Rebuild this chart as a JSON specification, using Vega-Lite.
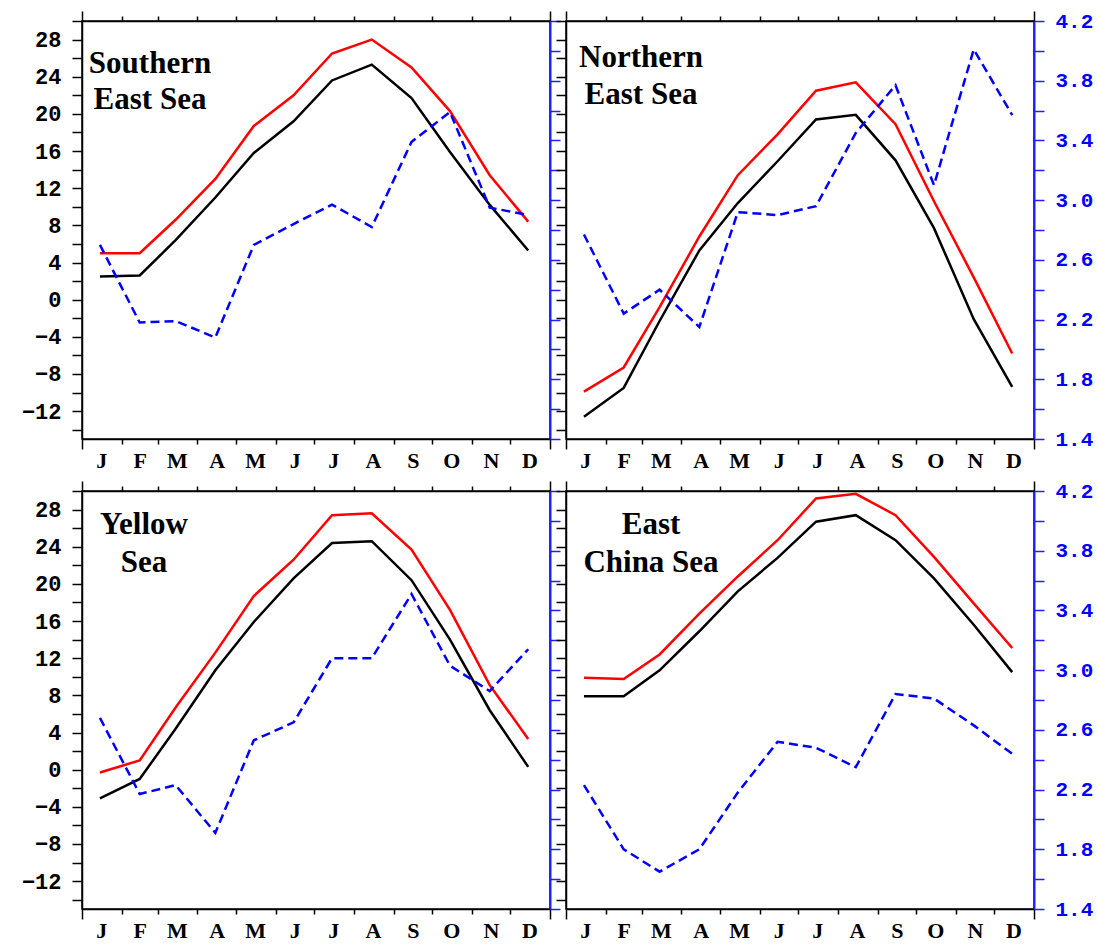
{
  "$schema": "https://vega.github.io/schema/vega-lite/v6.json",
  "background": "white",
  "padding": {"left": 20, "top": 9, "right": 0, "bottom": 0},
  "config": {"view": {"stroke": "black", "strokeWidth": 1.5}},
  "data": {"values": [
    {"region": "SES", "month": "2001-01-15", "upper": 5.0, "lower": 2.5, "right": 2.70},
    {"region": "SES", "month": "2001-02-15", "upper": 5.0, "lower": 2.6, "right": 2.18},
    {"region": "SES", "month": "2001-03-15", "upper": 8.6, "lower": 6.4, "right": 2.19},
    {"region": "SES", "month": "2001-04-15", "upper": 13.0, "lower": 11.0, "right": 2.08},
    {"region": "SES", "month": "2001-05-15", "upper": 18.7, "lower": 15.8, "right": 2.70},
    {"region": "SES", "month": "2001-06-15", "upper": 22.0, "lower": 19.2, "right": 2.84},
    {"region": "SES", "month": "2001-07-15", "upper": 26.5, "lower": 23.6, "right": 2.97},
    {"region": "SES", "month": "2001-08-15", "upper": 28.0, "lower": 25.3, "right": 2.82},
    {"region": "SES", "month": "2001-09-15", "upper": 25.0, "lower": 21.7, "right": 3.39},
    {"region": "SES", "month": "2001-10-15", "upper": 20.3, "lower": 15.9, "right": 3.59},
    {"region": "SES", "month": "2001-11-15", "upper": 13.4, "lower": 10.2, "right": 2.95},
    {"region": "SES", "month": "2001-12-15", "upper": 8.4, "lower": 5.3, "right": 2.90},
    {"region": "NES", "month": "2001-01-15", "upper": -9.9, "lower": -12.6, "right": 2.77},
    {"region": "NES", "month": "2001-02-15", "upper": -7.3, "lower": -9.5, "right": 2.24},
    {"region": "NES", "month": "2001-03-15", "upper": -0.8, "lower": -2.3, "right": 2.40},
    {"region": "NES", "month": "2001-04-15", "upper": 6.8, "lower": 5.3, "right": 2.15},
    {"region": "NES", "month": "2001-05-15", "upper": 13.4, "lower": 10.4, "right": 2.92},
    {"region": "NES", "month": "2001-06-15", "upper": 17.8, "lower": 14.9, "right": 2.90},
    {"region": "NES", "month": "2001-07-15", "upper": 22.5, "lower": 19.4, "right": 2.96},
    {"region": "NES", "month": "2001-08-15", "upper": 23.4, "lower": 19.9, "right": 3.45},
    {"region": "NES", "month": "2001-09-15", "upper": 18.9, "lower": 15.0, "right": 3.77},
    {"region": "NES", "month": "2001-10-15", "upper": 10.6, "lower": 7.7, "right": 3.10},
    {"region": "NES", "month": "2001-11-15", "upper": 2.4, "lower": -2.1, "right": 4.01},
    {"region": "NES", "month": "2001-12-15", "upper": -5.8, "lower": -9.4, "right": 3.57},
    {"region": "YS", "month": "2001-01-15", "upper": -0.3, "lower": -3.1, "right": 2.68},
    {"region": "YS", "month": "2001-02-15", "upper": 1.0, "lower": -1.0, "right": 2.17},
    {"region": "YS", "month": "2001-03-15", "upper": 6.7, "lower": 4.4, "right": 2.23},
    {"region": "YS", "month": "2001-04-15", "upper": 12.6, "lower": 10.7, "right": 1.91},
    {"region": "YS", "month": "2001-05-15", "upper": 18.7, "lower": 15.9, "right": 2.53},
    {"region": "YS", "month": "2001-06-15", "upper": 22.6, "lower": 20.6, "right": 2.65},
    {"region": "YS", "month": "2001-07-15", "upper": 27.4, "lower": 24.4, "right": 3.08},
    {"region": "YS", "month": "2001-08-15", "upper": 27.6, "lower": 24.6, "right": 3.08},
    {"region": "YS", "month": "2001-09-15", "upper": 23.7, "lower": 20.4, "right": 3.51},
    {"region": "YS", "month": "2001-10-15", "upper": 17.2, "lower": 14.0, "right": 3.03},
    {"region": "YS", "month": "2001-11-15", "upper": 9.1, "lower": 6.4, "right": 2.86},
    {"region": "YS", "month": "2001-12-15", "upper": 3.3, "lower": 0.3, "right": 3.14},
    {"region": "ECS", "month": "2001-01-15", "upper": 9.9, "lower": 7.9, "right": 2.23},
    {"region": "ECS", "month": "2001-02-15", "upper": 9.75, "lower": 7.9, "right": 1.80},
    {"region": "ECS", "month": "2001-03-15", "upper": 12.4, "lower": 10.7, "right": 1.65},
    {"region": "ECS", "month": "2001-04-15", "upper": 16.8, "lower": 14.9, "right": 1.80},
    {"region": "ECS", "month": "2001-05-15", "upper": 20.8, "lower": 19.2, "right": 2.18},
    {"region": "ECS", "month": "2001-06-15", "upper": 24.7, "lower": 22.8, "right": 2.52},
    {"region": "ECS", "month": "2001-07-15", "upper": 29.2, "lower": 26.7, "right": 2.48},
    {"region": "ECS", "month": "2001-08-15", "upper": 29.7, "lower": 27.4, "right": 2.35},
    {"region": "ECS", "month": "2001-09-15", "upper": 27.4, "lower": 24.7, "right": 2.84},
    {"region": "ECS", "month": "2001-10-15", "upper": 22.9, "lower": 20.6, "right": 2.81},
    {"region": "ECS", "month": "2001-11-15", "upper": 17.9, "lower": 15.6, "right": 2.63},
    {"region": "ECS", "month": "2001-12-15", "upper": 13.1, "lower": 10.5, "right": 2.44}
  ]},
  "columns": 2,
  "spacing": {"row": 52, "column": 16},
  "bounds": "flush",
  "concat": [
      {
        "width": 468, "height": 418,
        "title": {"text": ["Southern", "East Sea"], "anchor": "start", "align": "center", "dx": 68, "frame": "group", "offset": -130, "font": "Liberation Serif", "fontSize": 31, "fontWeight": "bold", "lineHeight": 36, "color": "black", "baseline": "alphabetic"},
        "transform": [{"filter": "datum.region == 'SES'"}],
        "layer": [
          {"layer": [
            {"mark": {"type": "line", "color": "#FF0000", "strokeWidth": 2.5},
             "encoding": {
               "x": {"field": "month", "type": "temporal", "scale": {"type": "utc", "domain": [{"year": 2001, "month": 1, "date": 1, "utc": true}, {"year": 2002, "month": 1, "date": 1, "utc": true}]},
                 "axis": {"orient": "bottom", "values": [{"year": 2001, "month": 1, "date": 16, "utc": true}, {"year": 2001, "month": 2, "date": 15, "utc": true}, {"year": 2001, "month": 3, "date": 16, "utc": true}, {"year": 2001, "month": 4, "date": 16, "utc": true}, {"year": 2001, "month": 5, "date": 16, "utc": true}, {"year": 2001, "month": 6, "date": 16, "utc": true}, {"year": 2001, "month": 7, "date": 16, "utc": true}, {"year": 2001, "month": 8, "date": 16, "utc": true}, {"year": 2001, "month": 9, "date": 16, "utc": true}, {"year": 2001, "month": 10, "date": 16, "utc": true}, {"year": 2001, "month": 11, "date": 16, "utc": true}, {"year": 2001, "month": 12, "date": 16, "utc": true}], "labelExpr": "slice(utcFormat(datum.value, '%b'), 0, 1)", "ticks": false, "domain": false, "grid": false, "title": null, "labelFont": "Liberation Serif", "labelFontSize": 22, "labelFontWeight": "bold", "labelColor": "black", "labelPadding": 11, "labelFlush": false, "labelOverlap": false, "labelBound": false, "labelAngle": 0}},
               "y": {"field": "upper", "type": "quantitative", "scale": {"domain": [-15, 30], "nice": false, "zero": false},
                 "axis": {"orient": "left", "values": [-14, -12, -10, -8, -6, -4, -2, 0, 2, 4, 6, 8, 10, 12, 14, 16, 18, 20, 22, 24, 26, 28, 30], "labelExpr": "(datum.value % 4 == 0 && datum.value >= -12 && datum.value <= 28) ? format(datum.value, 'd') : ''", "title": null, "grid": false, "tickSize": 10, "tickWidth": 1.5, "tickColor": "black", "domainColor": "black", "domainWidth": 1.5, "labelFont": "Liberation Mono", "labelFontSize": 22, "labelFontWeight": "bold", "labelColor": "black", "labelPadding": 11, "labelFlush": false, "labelOverlap": false, "labelBound": false}}
             }},
            {"mark": {"type": "line", "color": "black", "strokeWidth": 2.5},
             "encoding": {
               "x": {"field": "month", "type": "temporal", "scale": {"type": "utc", "domain": [{"year": 2001, "month": 1, "date": 1, "utc": true}, {"year": 2002, "month": 1, "date": 1, "utc": true}]},
                 "axis": {"orient": "bottom", "values": [{"year": 2001, "month": 1, "date": 1, "utc": true}, {"year": 2001, "month": 2, "date": 1, "utc": true}, {"year": 2001, "month": 3, "date": 1, "utc": true}, {"year": 2001, "month": 4, "date": 1, "utc": true}, {"year": 2001, "month": 5, "date": 1, "utc": true}, {"year": 2001, "month": 6, "date": 1, "utc": true}, {"year": 2001, "month": 7, "date": 1, "utc": true}, {"year": 2001, "month": 8, "date": 1, "utc": true}, {"year": 2001, "month": 9, "date": 1, "utc": true}, {"year": 2001, "month": 10, "date": 1, "utc": true}, {"year": 2001, "month": 11, "date": 1, "utc": true}, {"year": 2001, "month": 12, "date": 1, "utc": true}, {"year": 2002, "month": 1, "date": 1, "utc": true}], "labels": false, "grid": false, "title": null, "domain": true, "domainColor": "black", "domainWidth": 1.5, "tickColor": "black", "tickWidth": 1.5, "tickSize": {"condition": {"test": "utcmonth(datum.value) == 0", "value": 10}, "value": 5}}},
               "y": {"field": "lower", "type": "quantitative", "scale": {"domain": [-15, 30], "nice": false, "zero": false},
                 "axis": {"orient": "left", "values": [-14, -12, -10, -8, -6, -4, -2, 0, 2, 4, 6, 8, 10, 12, 14, 16, 18, 20, 22, 24, 26, 28, 30], "labelExpr": "(datum.value % 4 == 0 && datum.value >= -12 && datum.value <= 28) ? format(datum.value, 'd') : ''", "title": null, "grid": false, "tickSize": 10, "tickWidth": 1.5, "tickColor": "black", "domainColor": "black", "domainWidth": 1.5, "labelFont": "Liberation Mono", "labelFontSize": 22, "labelFontWeight": "bold", "labelColor": "black", "labelPadding": 11, "labelFlush": false, "labelOverlap": false, "labelBound": false}}
             }}
          ], "resolve": {"axis": {"x": "independent"}}},
          {"mark": {"type": "line", "color": "#0000FF", "strokeWidth": 2.5, "strokeDash": [9, 5]},
           "encoding": {
             "x": {"field": "month", "type": "temporal", "scale": {"type": "utc", "domain": [{"year": 2001, "month": 1, "date": 1, "utc": true}, {"year": 2002, "month": 1, "date": 1, "utc": true}]},
               "axis": {"orient": "top", "values": [{"year": 2001, "month": 1, "date": 1, "utc": true}, {"year": 2001, "month": 2, "date": 1, "utc": true}, {"year": 2001, "month": 3, "date": 1, "utc": true}, {"year": 2001, "month": 4, "date": 1, "utc": true}, {"year": 2001, "month": 5, "date": 1, "utc": true}, {"year": 2001, "month": 6, "date": 1, "utc": true}, {"year": 2001, "month": 7, "date": 1, "utc": true}, {"year": 2001, "month": 8, "date": 1, "utc": true}, {"year": 2001, "month": 9, "date": 1, "utc": true}, {"year": 2001, "month": 10, "date": 1, "utc": true}, {"year": 2001, "month": 11, "date": 1, "utc": true}, {"year": 2001, "month": 12, "date": 1, "utc": true}, {"year": 2002, "month": 1, "date": 1, "utc": true}], "labels": false, "grid": false, "title": null, "domain": true, "domainColor": "black", "domainWidth": 1.5, "tickColor": "black", "tickWidth": 1.5, "tickSize": {"condition": {"test": "utcmonth(datum.value) == 0", "value": 10}, "value": 5}}},
             "y": {"field": "right", "type": "quantitative", "scale": {"domain": [1.4, 4.2], "nice": false, "zero": false},
               "axis": {"orient": "right", "values": [1.4, 1.6, 1.8, 2.0, 2.2, 2.4, 2.6, 2.8, 3.0, 3.2, 3.4, 3.6, 3.8, 4.0, 4.2], "labels": false, "title": null, "grid": false, "tickSize": 10, "tickWidth": 1.5, "tickColor": "#2020FF", "domainColor": "#2020FF", "domainWidth": 2}}
           }}
        ],
        "resolve": {"scale": {"y": "independent"}, "axis": {"x": "independent", "y": "independent"}}
      },
      {
        "width": 468, "height": 418,
        "title": {"text": ["Northern", "East Sea"], "anchor": "start", "align": "center", "dx": 75, "frame": "group", "offset": -125, "font": "Liberation Serif", "fontSize": 31, "fontWeight": "bold", "lineHeight": 37, "color": "black", "baseline": "alphabetic"},
        "transform": [{"filter": "datum.region == 'NES'"}],
        "layer": [
          {"layer": [
            {"mark": {"type": "line", "color": "#FF0000", "strokeWidth": 2.5},
             "encoding": {
               "x": {"field": "month", "type": "temporal", "scale": {"type": "utc", "domain": [{"year": 2001, "month": 1, "date": 1, "utc": true}, {"year": 2002, "month": 1, "date": 1, "utc": true}]},
                 "axis": {"orient": "bottom", "values": [{"year": 2001, "month": 1, "date": 16, "utc": true}, {"year": 2001, "month": 2, "date": 15, "utc": true}, {"year": 2001, "month": 3, "date": 16, "utc": true}, {"year": 2001, "month": 4, "date": 16, "utc": true}, {"year": 2001, "month": 5, "date": 16, "utc": true}, {"year": 2001, "month": 6, "date": 16, "utc": true}, {"year": 2001, "month": 7, "date": 16, "utc": true}, {"year": 2001, "month": 8, "date": 16, "utc": true}, {"year": 2001, "month": 9, "date": 16, "utc": true}, {"year": 2001, "month": 10, "date": 16, "utc": true}, {"year": 2001, "month": 11, "date": 16, "utc": true}, {"year": 2001, "month": 12, "date": 16, "utc": true}], "labelExpr": "slice(utcFormat(datum.value, '%b'), 0, 1)", "ticks": false, "domain": false, "grid": false, "title": null, "labelFont": "Liberation Serif", "labelFontSize": 22, "labelFontWeight": "bold", "labelColor": "black", "labelPadding": 11, "labelFlush": false, "labelOverlap": false, "labelBound": false, "labelAngle": 0}},
               "y": {"field": "upper", "type": "quantitative", "scale": {"domain": [-15, 30], "nice": false, "zero": false},
                 "axis": {"orient": "left", "values": [-14, -12, -10, -8, -6, -4, -2, 0, 2, 4, 6, 8, 10, 12, 14, 16, 18, 20, 22, 24, 26, 28, 30], "labels": false, "title": null, "grid": false, "tickSize": 10, "tickWidth": 1.5, "tickColor": "black", "domainColor": "black", "domainWidth": 1.5}}
             }},
            {"mark": {"type": "line", "color": "black", "strokeWidth": 2.5},
             "encoding": {
               "x": {"field": "month", "type": "temporal", "scale": {"type": "utc", "domain": [{"year": 2001, "month": 1, "date": 1, "utc": true}, {"year": 2002, "month": 1, "date": 1, "utc": true}]},
                 "axis": {"orient": "bottom", "values": [{"year": 2001, "month": 1, "date": 1, "utc": true}, {"year": 2001, "month": 2, "date": 1, "utc": true}, {"year": 2001, "month": 3, "date": 1, "utc": true}, {"year": 2001, "month": 4, "date": 1, "utc": true}, {"year": 2001, "month": 5, "date": 1, "utc": true}, {"year": 2001, "month": 6, "date": 1, "utc": true}, {"year": 2001, "month": 7, "date": 1, "utc": true}, {"year": 2001, "month": 8, "date": 1, "utc": true}, {"year": 2001, "month": 9, "date": 1, "utc": true}, {"year": 2001, "month": 10, "date": 1, "utc": true}, {"year": 2001, "month": 11, "date": 1, "utc": true}, {"year": 2001, "month": 12, "date": 1, "utc": true}, {"year": 2002, "month": 1, "date": 1, "utc": true}], "labels": false, "grid": false, "title": null, "domain": true, "domainColor": "black", "domainWidth": 1.5, "tickColor": "black", "tickWidth": 1.5, "tickSize": {"condition": {"test": "utcmonth(datum.value) == 0", "value": 10}, "value": 5}}},
               "y": {"field": "lower", "type": "quantitative", "scale": {"domain": [-15, 30], "nice": false, "zero": false},
                 "axis": {"orient": "left", "values": [-14, -12, -10, -8, -6, -4, -2, 0, 2, 4, 6, 8, 10, 12, 14, 16, 18, 20, 22, 24, 26, 28, 30], "labels": false, "title": null, "grid": false, "tickSize": 10, "tickWidth": 1.5, "tickColor": "black", "domainColor": "black", "domainWidth": 1.5}}
             }}
          ], "resolve": {"axis": {"x": "independent"}}},
          {"mark": {"type": "line", "color": "#0000FF", "strokeWidth": 2.5, "strokeDash": [9, 5]},
           "encoding": {
             "x": {"field": "month", "type": "temporal", "scale": {"type": "utc", "domain": [{"year": 2001, "month": 1, "date": 1, "utc": true}, {"year": 2002, "month": 1, "date": 1, "utc": true}]},
               "axis": {"orient": "top", "values": [{"year": 2001, "month": 1, "date": 1, "utc": true}, {"year": 2001, "month": 2, "date": 1, "utc": true}, {"year": 2001, "month": 3, "date": 1, "utc": true}, {"year": 2001, "month": 4, "date": 1, "utc": true}, {"year": 2001, "month": 5, "date": 1, "utc": true}, {"year": 2001, "month": 6, "date": 1, "utc": true}, {"year": 2001, "month": 7, "date": 1, "utc": true}, {"year": 2001, "month": 8, "date": 1, "utc": true}, {"year": 2001, "month": 9, "date": 1, "utc": true}, {"year": 2001, "month": 10, "date": 1, "utc": true}, {"year": 2001, "month": 11, "date": 1, "utc": true}, {"year": 2001, "month": 12, "date": 1, "utc": true}, {"year": 2002, "month": 1, "date": 1, "utc": true}], "labels": false, "grid": false, "title": null, "domain": true, "domainColor": "black", "domainWidth": 1.5, "tickColor": "black", "tickWidth": 1.5, "tickSize": {"condition": {"test": "utcmonth(datum.value) == 0", "value": 10}, "value": 5}}},
             "y": {"field": "right", "type": "quantitative", "scale": {"domain": [1.4, 4.2], "nice": false, "zero": false},
               "axis": {"orient": "right", "values": [1.4, 1.6, 1.8, 2.0, 2.2, 2.4, 2.6, 2.8, 3.0, 3.2, 3.4, 3.6, 3.8, 4.0, 4.2], "labelExpr": "indexof(['1.4','1.8','2.2','2.6','3.0','3.4','3.8','4.2'], format(datum.value, '.1f')) >= 0 ? format(datum.value, '.1f') : ''", "title": null, "grid": false, "tickSize": 10, "tickWidth": 1.5, "tickColor": "#2020FF", "domainColor": "#2020FF", "domainWidth": 2, "labelFont": "Liberation Mono", "labelFontSize": 21, "labelFontWeight": "bold", "labelColor": "#0000FF", "labelPadding": 11, "labelFlush": false, "labelOverlap": false, "labelBound": false}}
           }}
        ],
        "resolve": {"scale": {"y": "independent"}, "axis": {"x": "independent", "y": "independent"}}
      },
      {
        "width": 468, "height": 418,
        "title": {"text": ["Yellow", "Sea"], "anchor": "start", "align": "center", "dx": 62, "frame": "group", "offset": -123, "font": "Liberation Serif", "fontSize": 31, "fontWeight": "bold", "lineHeight": 38, "color": "black", "baseline": "alphabetic"},
        "transform": [{"filter": "datum.region == 'YS'"}],
        "layer": [
          {"layer": [
            {"mark": {"type": "line", "color": "#FF0000", "strokeWidth": 2.5},
             "encoding": {
               "x": {"field": "month", "type": "temporal", "scale": {"type": "utc", "domain": [{"year": 2001, "month": 1, "date": 1, "utc": true}, {"year": 2002, "month": 1, "date": 1, "utc": true}]},
                 "axis": {"orient": "bottom", "values": [{"year": 2001, "month": 1, "date": 16, "utc": true}, {"year": 2001, "month": 2, "date": 15, "utc": true}, {"year": 2001, "month": 3, "date": 16, "utc": true}, {"year": 2001, "month": 4, "date": 16, "utc": true}, {"year": 2001, "month": 5, "date": 16, "utc": true}, {"year": 2001, "month": 6, "date": 16, "utc": true}, {"year": 2001, "month": 7, "date": 16, "utc": true}, {"year": 2001, "month": 8, "date": 16, "utc": true}, {"year": 2001, "month": 9, "date": 16, "utc": true}, {"year": 2001, "month": 10, "date": 16, "utc": true}, {"year": 2001, "month": 11, "date": 16, "utc": true}, {"year": 2001, "month": 12, "date": 16, "utc": true}], "labelExpr": "slice(utcFormat(datum.value, '%b'), 0, 1)", "ticks": false, "domain": false, "grid": false, "title": null, "labelFont": "Liberation Serif", "labelFontSize": 22, "labelFontWeight": "bold", "labelColor": "black", "labelPadding": 11, "labelFlush": false, "labelOverlap": false, "labelBound": false, "labelAngle": 0}},
               "y": {"field": "upper", "type": "quantitative", "scale": {"domain": [-15, 30], "nice": false, "zero": false},
                 "axis": {"orient": "left", "values": [-14, -12, -10, -8, -6, -4, -2, 0, 2, 4, 6, 8, 10, 12, 14, 16, 18, 20, 22, 24, 26, 28, 30], "labelExpr": "(datum.value % 4 == 0 && datum.value >= -12 && datum.value <= 28) ? format(datum.value, 'd') : ''", "title": null, "grid": false, "tickSize": 10, "tickWidth": 1.5, "tickColor": "black", "domainColor": "black", "domainWidth": 1.5, "labelFont": "Liberation Mono", "labelFontSize": 22, "labelFontWeight": "bold", "labelColor": "black", "labelPadding": 11, "labelFlush": false, "labelOverlap": false, "labelBound": false}}
             }},
            {"mark": {"type": "line", "color": "black", "strokeWidth": 2.5},
             "encoding": {
               "x": {"field": "month", "type": "temporal", "scale": {"type": "utc", "domain": [{"year": 2001, "month": 1, "date": 1, "utc": true}, {"year": 2002, "month": 1, "date": 1, "utc": true}]},
                 "axis": {"orient": "bottom", "values": [{"year": 2001, "month": 1, "date": 1, "utc": true}, {"year": 2001, "month": 2, "date": 1, "utc": true}, {"year": 2001, "month": 3, "date": 1, "utc": true}, {"year": 2001, "month": 4, "date": 1, "utc": true}, {"year": 2001, "month": 5, "date": 1, "utc": true}, {"year": 2001, "month": 6, "date": 1, "utc": true}, {"year": 2001, "month": 7, "date": 1, "utc": true}, {"year": 2001, "month": 8, "date": 1, "utc": true}, {"year": 2001, "month": 9, "date": 1, "utc": true}, {"year": 2001, "month": 10, "date": 1, "utc": true}, {"year": 2001, "month": 11, "date": 1, "utc": true}, {"year": 2001, "month": 12, "date": 1, "utc": true}, {"year": 2002, "month": 1, "date": 1, "utc": true}], "labels": false, "grid": false, "title": null, "domain": true, "domainColor": "black", "domainWidth": 1.5, "tickColor": "black", "tickWidth": 1.5, "tickSize": {"condition": {"test": "utcmonth(datum.value) == 0", "value": 10}, "value": 5}}},
               "y": {"field": "lower", "type": "quantitative", "scale": {"domain": [-15, 30], "nice": false, "zero": false},
                 "axis": {"orient": "left", "values": [-14, -12, -10, -8, -6, -4, -2, 0, 2, 4, 6, 8, 10, 12, 14, 16, 18, 20, 22, 24, 26, 28, 30], "labelExpr": "(datum.value % 4 == 0 && datum.value >= -12 && datum.value <= 28) ? format(datum.value, 'd') : ''", "title": null, "grid": false, "tickSize": 10, "tickWidth": 1.5, "tickColor": "black", "domainColor": "black", "domainWidth": 1.5, "labelFont": "Liberation Mono", "labelFontSize": 22, "labelFontWeight": "bold", "labelColor": "black", "labelPadding": 11, "labelFlush": false, "labelOverlap": false, "labelBound": false}}
             }}
          ], "resolve": {"axis": {"x": "independent"}}},
          {"mark": {"type": "line", "color": "#0000FF", "strokeWidth": 2.5, "strokeDash": [9, 5]},
           "encoding": {
             "x": {"field": "month", "type": "temporal", "scale": {"type": "utc", "domain": [{"year": 2001, "month": 1, "date": 1, "utc": true}, {"year": 2002, "month": 1, "date": 1, "utc": true}]},
               "axis": {"orient": "top", "values": [{"year": 2001, "month": 1, "date": 1, "utc": true}, {"year": 2001, "month": 2, "date": 1, "utc": true}, {"year": 2001, "month": 3, "date": 1, "utc": true}, {"year": 2001, "month": 4, "date": 1, "utc": true}, {"year": 2001, "month": 5, "date": 1, "utc": true}, {"year": 2001, "month": 6, "date": 1, "utc": true}, {"year": 2001, "month": 7, "date": 1, "utc": true}, {"year": 2001, "month": 8, "date": 1, "utc": true}, {"year": 2001, "month": 9, "date": 1, "utc": true}, {"year": 2001, "month": 10, "date": 1, "utc": true}, {"year": 2001, "month": 11, "date": 1, "utc": true}, {"year": 2001, "month": 12, "date": 1, "utc": true}, {"year": 2002, "month": 1, "date": 1, "utc": true}], "labels": false, "grid": false, "title": null, "domain": true, "domainColor": "black", "domainWidth": 1.5, "tickColor": "black", "tickWidth": 1.5, "tickSize": {"condition": {"test": "utcmonth(datum.value) == 0", "value": 10}, "value": 5}}},
             "y": {"field": "right", "type": "quantitative", "scale": {"domain": [1.4, 4.2], "nice": false, "zero": false},
               "axis": {"orient": "right", "values": [1.4, 1.6, 1.8, 2.0, 2.2, 2.4, 2.6, 2.8, 3.0, 3.2, 3.4, 3.6, 3.8, 4.0, 4.2], "labels": false, "title": null, "grid": false, "tickSize": 10, "tickWidth": 1.5, "tickColor": "#2020FF", "domainColor": "#2020FF", "domainWidth": 2}}
           }}
        ],
        "resolve": {"scale": {"y": "independent"}, "axis": {"x": "independent", "y": "independent"}}
      },
      {
        "width": 468, "height": 418,
        "title": {"text": ["East", "China Sea"], "anchor": "start", "align": "center", "dx": 85, "frame": "group", "offset": -123, "font": "Liberation Serif", "fontSize": 31, "fontWeight": "bold", "lineHeight": 38, "color": "black", "baseline": "alphabetic"},
        "transform": [{"filter": "datum.region == 'ECS'"}],
        "layer": [
          {"layer": [
            {"mark": {"type": "line", "color": "#FF0000", "strokeWidth": 2.5},
             "encoding": {
               "x": {"field": "month", "type": "temporal", "scale": {"type": "utc", "domain": [{"year": 2001, "month": 1, "date": 1, "utc": true}, {"year": 2002, "month": 1, "date": 1, "utc": true}]},
                 "axis": {"orient": "bottom", "values": [{"year": 2001, "month": 1, "date": 16, "utc": true}, {"year": 2001, "month": 2, "date": 15, "utc": true}, {"year": 2001, "month": 3, "date": 16, "utc": true}, {"year": 2001, "month": 4, "date": 16, "utc": true}, {"year": 2001, "month": 5, "date": 16, "utc": true}, {"year": 2001, "month": 6, "date": 16, "utc": true}, {"year": 2001, "month": 7, "date": 16, "utc": true}, {"year": 2001, "month": 8, "date": 16, "utc": true}, {"year": 2001, "month": 9, "date": 16, "utc": true}, {"year": 2001, "month": 10, "date": 16, "utc": true}, {"year": 2001, "month": 11, "date": 16, "utc": true}, {"year": 2001, "month": 12, "date": 16, "utc": true}], "labelExpr": "slice(utcFormat(datum.value, '%b'), 0, 1)", "ticks": false, "domain": false, "grid": false, "title": null, "labelFont": "Liberation Serif", "labelFontSize": 22, "labelFontWeight": "bold", "labelColor": "black", "labelPadding": 11, "labelFlush": false, "labelOverlap": false, "labelBound": false, "labelAngle": 0}},
               "y": {"field": "upper", "type": "quantitative", "scale": {"domain": [-15, 30], "nice": false, "zero": false},
                 "axis": {"orient": "left", "values": [-14, -12, -10, -8, -6, -4, -2, 0, 2, 4, 6, 8, 10, 12, 14, 16, 18, 20, 22, 24, 26, 28, 30], "labels": false, "title": null, "grid": false, "tickSize": 10, "tickWidth": 1.5, "tickColor": "black", "domainColor": "black", "domainWidth": 1.5}}
             }},
            {"mark": {"type": "line", "color": "black", "strokeWidth": 2.5},
             "encoding": {
               "x": {"field": "month", "type": "temporal", "scale": {"type": "utc", "domain": [{"year": 2001, "month": 1, "date": 1, "utc": true}, {"year": 2002, "month": 1, "date": 1, "utc": true}]},
                 "axis": {"orient": "bottom", "values": [{"year": 2001, "month": 1, "date": 1, "utc": true}, {"year": 2001, "month": 2, "date": 1, "utc": true}, {"year": 2001, "month": 3, "date": 1, "utc": true}, {"year": 2001, "month": 4, "date": 1, "utc": true}, {"year": 2001, "month": 5, "date": 1, "utc": true}, {"year": 2001, "month": 6, "date": 1, "utc": true}, {"year": 2001, "month": 7, "date": 1, "utc": true}, {"year": 2001, "month": 8, "date": 1, "utc": true}, {"year": 2001, "month": 9, "date": 1, "utc": true}, {"year": 2001, "month": 10, "date": 1, "utc": true}, {"year": 2001, "month": 11, "date": 1, "utc": true}, {"year": 2001, "month": 12, "date": 1, "utc": true}, {"year": 2002, "month": 1, "date": 1, "utc": true}], "labels": false, "grid": false, "title": null, "domain": true, "domainColor": "black", "domainWidth": 1.5, "tickColor": "black", "tickWidth": 1.5, "tickSize": {"condition": {"test": "utcmonth(datum.value) == 0", "value": 10}, "value": 5}}},
               "y": {"field": "lower", "type": "quantitative", "scale": {"domain": [-15, 30], "nice": false, "zero": false},
                 "axis": {"orient": "left", "values": [-14, -12, -10, -8, -6, -4, -2, 0, 2, 4, 6, 8, 10, 12, 14, 16, 18, 20, 22, 24, 26, 28, 30], "labels": false, "title": null, "grid": false, "tickSize": 10, "tickWidth": 1.5, "tickColor": "black", "domainColor": "black", "domainWidth": 1.5}}
             }}
          ], "resolve": {"axis": {"x": "independent"}}},
          {"mark": {"type": "line", "color": "#0000FF", "strokeWidth": 2.5, "strokeDash": [9, 5]},
           "encoding": {
             "x": {"field": "month", "type": "temporal", "scale": {"type": "utc", "domain": [{"year": 2001, "month": 1, "date": 1, "utc": true}, {"year": 2002, "month": 1, "date": 1, "utc": true}]},
               "axis": {"orient": "top", "values": [{"year": 2001, "month": 1, "date": 1, "utc": true}, {"year": 2001, "month": 2, "date": 1, "utc": true}, {"year": 2001, "month": 3, "date": 1, "utc": true}, {"year": 2001, "month": 4, "date": 1, "utc": true}, {"year": 2001, "month": 5, "date": 1, "utc": true}, {"year": 2001, "month": 6, "date": 1, "utc": true}, {"year": 2001, "month": 7, "date": 1, "utc": true}, {"year": 2001, "month": 8, "date": 1, "utc": true}, {"year": 2001, "month": 9, "date": 1, "utc": true}, {"year": 2001, "month": 10, "date": 1, "utc": true}, {"year": 2001, "month": 11, "date": 1, "utc": true}, {"year": 2001, "month": 12, "date": 1, "utc": true}, {"year": 2002, "month": 1, "date": 1, "utc": true}], "labels": false, "grid": false, "title": null, "domain": true, "domainColor": "black", "domainWidth": 1.5, "tickColor": "black", "tickWidth": 1.5, "tickSize": {"condition": {"test": "utcmonth(datum.value) == 0", "value": 10}, "value": 5}}},
             "y": {"field": "right", "type": "quantitative", "scale": {"domain": [1.4, 4.2], "nice": false, "zero": false},
               "axis": {"orient": "right", "values": [1.4, 1.6, 1.8, 2.0, 2.2, 2.4, 2.6, 2.8, 3.0, 3.2, 3.4, 3.6, 3.8, 4.0, 4.2], "labelExpr": "indexof(['1.4','1.8','2.2','2.6','3.0','3.4','3.8','4.2'], format(datum.value, '.1f')) >= 0 ? format(datum.value, '.1f') : ''", "title": null, "grid": false, "tickSize": 10, "tickWidth": 1.5, "tickColor": "#2020FF", "domainColor": "#2020FF", "domainWidth": 2, "labelFont": "Liberation Mono", "labelFontSize": 21, "labelFontWeight": "bold", "labelColor": "#0000FF", "labelPadding": 11, "labelFlush": false, "labelOverlap": false, "labelBound": false}}
           }}
        ],
        "resolve": {"scale": {"y": "independent"}, "axis": {"x": "independent", "y": "independent"}}
      }
  ]
}
